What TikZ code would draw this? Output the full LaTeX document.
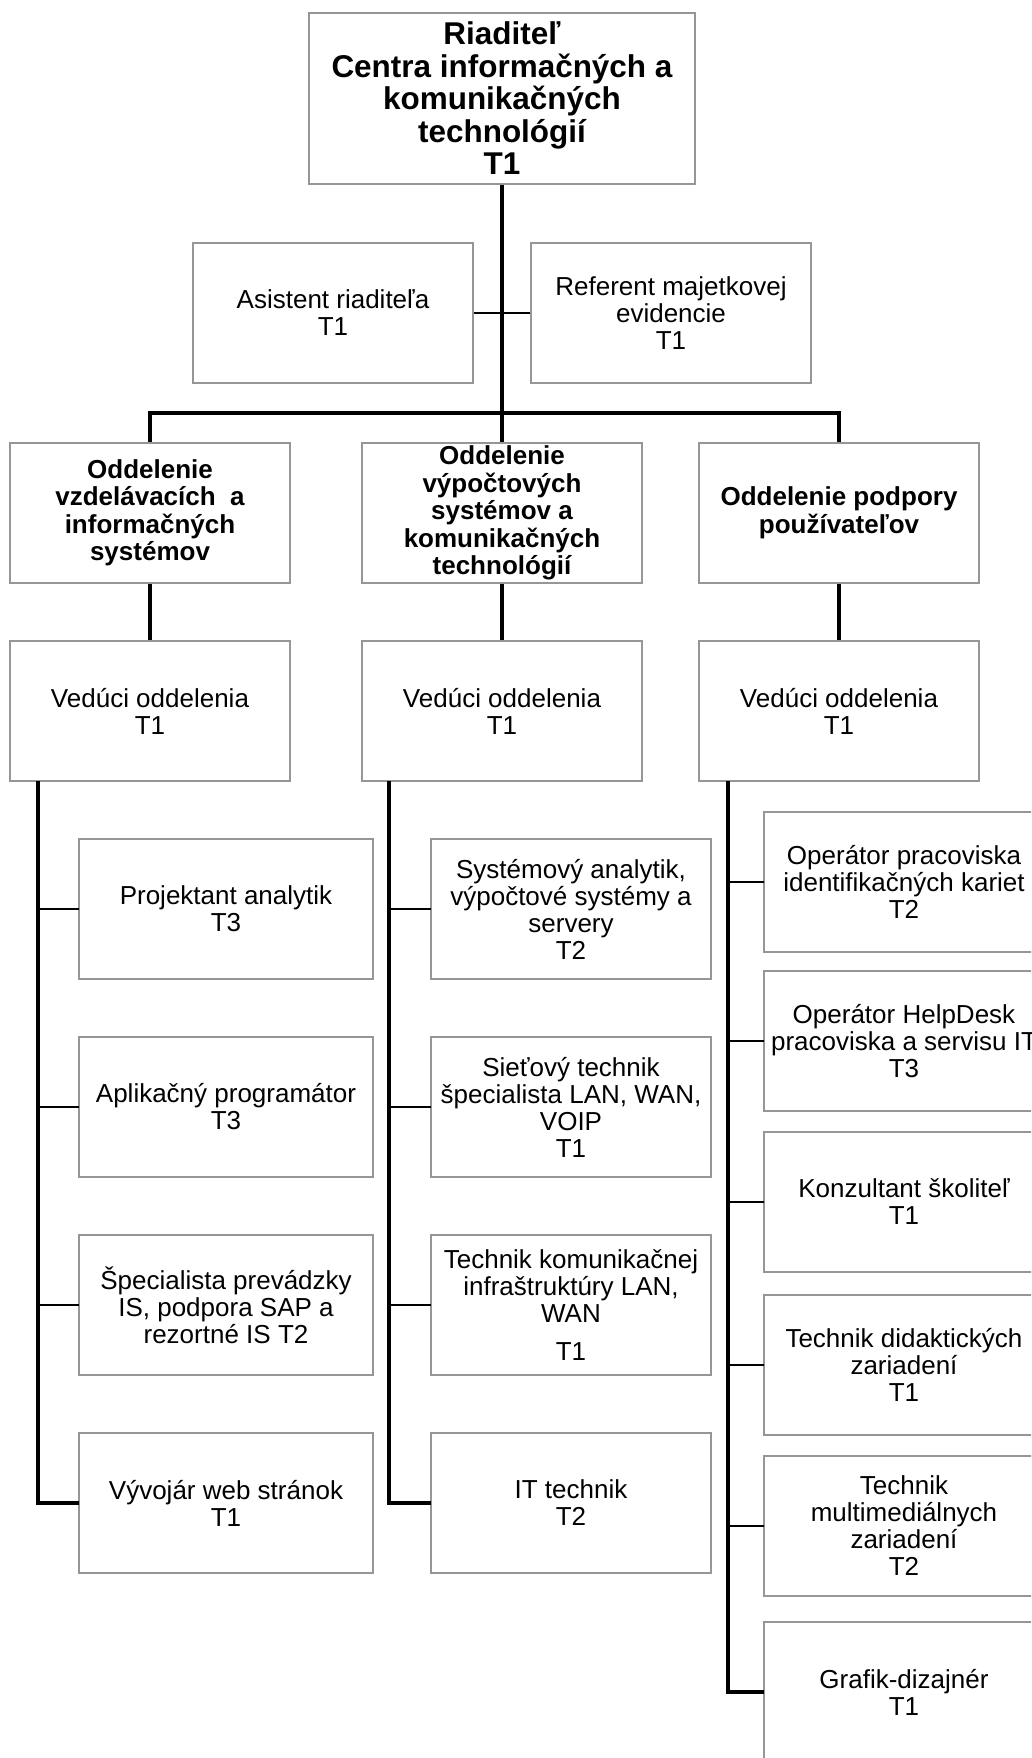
\documentclass[tikz,border=0pt]{standalone}
\usepackage{fontspec}
\setmainfont{Liberation Sans}
\definecolor{boxgray}{RGB}{150,150,150}
\newcommand\nrmtxt{\fontsize{19.5pt}{20.25pt}\selectfont}
\newcommand\deptxt{\fontsize{19.5pt}{20.6pt}\selectfont\bfseries}
\newcommand\toptxt{\fontsize{23.6pt}{24.4pt}\selectfont\bfseries}
\tikzset{
  box/.style={draw=boxgray, line width=1pt, fill=white, inner sep=0pt, outer sep=0pt,
    align=center, minimum width=210pt, minimum height=105pt, font=\nrmtxt},
  widebox/.style={box, minimum width=220.5pt},
  deptbox/.style={box, font=\deptxt},
  topbox/.style={box, minimum width=289.5pt, minimum height=128.25pt, font=\toptxt},
  mainline/.style={draw=black, line width=2.4pt},
  branch/.style={draw=black, line width=2.2pt},
}
\begin{document}
\begin{tikzpicture}[x=0.75pt, y=-0.75pt]
\clip (0,0) rectangle (1031,1758);
\fill[white] (0,0) rectangle (1031,1758);

% coordinates of connector junctions
\coordinate (bus) at (502,413);
\coordinate (lcol) at (38,781);
\coordinate (mcol) at (389,781);
\coordinate (rcol) at (728,781);

% lines first (boxes drawn on top)
\draw[mainline] (502,184) coordinate (trunktop) -- (502,443) coordinate (trunkbot);
\draw[branch] (333,313) coordinate (ac) -- (671,313) coordinate (rc);
\draw[mainline] (150,443) coordinate (dLn) |- (bus) -| (839,443) coordinate (dRn);
\draw[mainline] (150,583) coordinate (dLs) -- (150,641) coordinate (vLn);
\draw[mainline] (502,583) coordinate (dMs) -- (502,641) coordinate (vMn);
\draw[mainline] (839,583) coordinate (dRs) -- (839,641) coordinate (vRn);

% nodes
\node[topbox] (top) at (502,98.5) {Riaditeľ\\Centra informačných a\\komunikačných\\technológií\\T1};
\node[box] (asst) at (333,313) {Asistent riaditeľa\\T1};
\node[box] (ref) at (671,313) {Referent majetkovej\\evidencie\\T1};

\node[deptbox] (dL) at (150,513) {Oddelenie\\vzdelávacích~ a\\informačných\\systémov};
\node[deptbox] (dM) at (502,513) {Oddelenie\\výpočtových\\systémov a\\komunikačných\\technológií};
\node[deptbox] (dR) at (839,513) {Oddelenie podpory\\používateľov};

\node[box] (vL) at (150,711) {Vedúci oddelenia\\T1};
\node[box] (vM) at (502,711) {Vedúci oddelenia\\T1};
\node[box] (vR) at (839,711) {Vedúci oddelenia\\T1};

% left column
\node[widebox] (l1) at (226,909) {Projektant analytik\\T3};
\node[widebox] (l2) at (226,1107) {Aplikačný programátor\\T3};
\node[widebox] (l3) at (226,1305) {Špecialista prevádzky\\IS, podpora SAP a\\rezortné IS T2};
\node[widebox] (l4) at (226,1503) {Vývojár web stránok\\T1};

% middle column
\node[box] (m1) at (571,909) {Systémový analytik,\\výpočtové systémy a\\servery\\T2};
\node[box] (m2) at (571,1107) {Sieťový technik\\špecialista LAN, WAN,\\VOIP\\T1};
\node[box] (m3) at (571,1305) {Technik komunikačnej\\infraštruktúry LAN,\\WAN\\[8pt]T1};
\node[box] (m4) at (571,1503) {IT technik\\T2};

% right column
\node[box] (r1) at (904,882) {Operátor pracoviska\\identifikačných kariet\\T2};
\node[box] (r2) at (904,1041) {Operátor HelpDesk\\pracoviska a servisu IT\\T3};
\node[box] (r3) at (904,1202) {Konzultant školiteľ\\T1};
\node[box] (r4) at (904,1365) {Technik didaktických\\zariadení\\T1};
\node[box] (r5) at (904,1526) {Technik\\multimediálnych\\zariadení\\T2};
\node[box] (r6) at (904,1692) {Grafik-dizajnér\\T1};

% column connectors
\draw[mainline] (lcol) |- (l4.west);
\draw[branch] (l1.west) -- (l1.west -| lcol);
\draw[branch] (l2.west) -- (l2.west -| lcol);
\draw[branch] (l3.west) -- (l3.west -| lcol);

\draw[mainline] (mcol) |- (m4.west);
\draw[branch] (m1.west) -- (m1.west -| mcol);
\draw[branch] (m2.west) -- (m2.west -| mcol);
\draw[branch] (m3.west) -- (m3.west -| mcol);

\draw[mainline] (rcol) |- (r6.west);
\draw[branch] (r1.west) -- (r1.west -| rcol);
\draw[branch] (r2.west) -- (r2.west -| rcol);
\draw[branch] (r3.west) -- (r3.west -| rcol);
\draw[branch] (r4.west) -- (r4.west -| rcol);
\draw[branch] (r5.west) -- (r5.west -| rcol);
\end{tikzpicture}
\end{document}
